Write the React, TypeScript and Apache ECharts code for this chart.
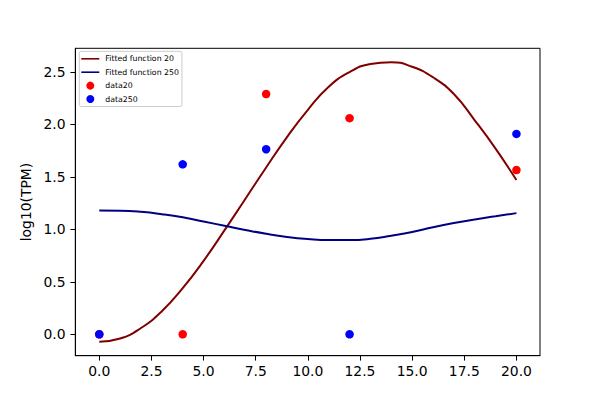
import React, { useEffect, useRef } from "react";
import * as echarts from "echarts";

const fitX = [0, 1, 2, 3, 4, 5, 6, 7, 8, 9, 10, 11, 12, 13, 14, 15, 16, 17, 18, 19, 20];
const fit20 = [-0.07, -0.04, 0.06, 0.22, 0.44, 0.7, 0.99, 1.29, 1.59, 1.88, 2.14, 2.36, 2.5, 2.577, 2.594, 2.55, 2.45, 2.29, 2.04, 1.77, 1.47];
const fit250 = [1.18, 1.178, 1.167, 1.145, 1.115, 1.075, 1.035, 0.995, 0.958, 0.928, 0.908, 0.898, 0.898, 0.91, 0.94, 0.975, 1.02, 1.06, 1.095, 1.125, 1.155];
const dataX = [0, 4, 8, 12, 20];
const data20 = [0, 0, 2.29, 2.06, 1.566];
const data250 = [0, 1.62, 1.764, 0, 1.91];
const xTicks = [0, 2.5, 5, 7.5, 10, 12.5, 15, 17.5, 20];
const yTicks = [0, 0.5, 1, 1.5, 2, 2.5];

const FONT = "DejaVu Sans";
const LINE_ICON = "path://M0,0M0,3.2L18,3.2L18,4.8L0,4.8ZM18,8";

export default function App() {
  const ref = useRef<HTMLDivElement>(null);
  useEffect(() => {
    document.body.style.margin = "0";
    const chart = echarts.init(ref.current!, null, { renderer: "svg" });
    const pair = (xs: number[], ys: number[]) => xs.map((x, i) => [x, ys[i]]);
    chart.setOption({
      animation: false,
      backgroundColor: "#fff",
      grid: {
        left: 75.3,
        right: 60,
        top: 48.3,
        bottom: 44.3,
        show: true,
        borderColor: "#000",
        borderWidth: 1,
        backgroundColor: "transparent",
      },
      legend: {
        orient: "vertical",
        left: 79.3,
        top: 51.3,
        padding: [3.5, 3, 3.5, 2],
        itemGap: 5.4,
        itemWidth: 18,
        itemHeight: 8,
        backgroundColor: "rgba(255,255,255,0.8)",
        borderColor: "#cccccc",
        borderWidth: 1,
        borderRadius: 2,
        textStyle: { fontFamily: FONT, fontSize: 7.8, color: "#000", lineHeight: 8, padding: [0, 0, 0, 1] },
        data: [
          { name: "Fitted function 20", icon: LINE_ICON, itemStyle: { color: "#800000", borderWidth: 0 } },
          { name: "Fitted function 250", icon: LINE_ICON, itemStyle: { color: "#000080", borderWidth: 0 } },
          { name: "data20", icon: "circle", itemStyle: { borderWidth: 0 } },
          { name: "data250", icon: "circle", itemStyle: { borderWidth: 0 } },
        ],
      },
      xAxis: {
        type: "value",
        min: -1.15,
        max: 21.13,
        splitLine: { show: false },
        axisLine: { show: true, onZero: false, lineStyle: { color: "#000", width: 1 } },
        axisTick: { show: true, inside: false, length: 4.9, customValues: xTicks, lineStyle: { color: "#000", width: 1 } },
        axisLabel: {
          customValues: xTicks,
          margin: 8,
          fontFamily: FONT,
          fontSize: 13.9,
          color: "#000",
          formatter: (v: number) => v.toFixed(1),
        },
      },
      yAxis: {
        type: "value",
        min: -0.204,
        max: 2.726,
        name: "log10(TPM)",
        nameLocation: "middle",
        nameGap: 39,
        nameTextStyle: { fontFamily: FONT, fontSize: 13.9, color: "#000" },
        splitLine: { show: false },
        axisLine: { show: true, onZero: false, lineStyle: { color: "#000", width: 1 } },
        axisTick: { show: true, inside: false, length: 4.9, customValues: yTicks, lineStyle: { color: "#000", width: 1 } },
        axisLabel: {
          customValues: yTicks,
          margin: 9.8,
          fontFamily: FONT,
          fontSize: 13.9,
          color: "#000",
          formatter: (v: number) => v.toFixed(1),
        },
      },
      series: [
        {
          name: "Fitted function 20",
          type: "line",
          data: pair(fitX, fit20),
          smooth: true,
          symbol: "none",
          color: "#800000",
          lineStyle: { color: "#800000", width: 2 },
        },
        {
          name: "Fitted function 250",
          type: "line",
          data: pair(fitX, fit250),
          smooth: true,
          symbol: "none",
          color: "#000080",
          lineStyle: { color: "#000080", width: 2 },
        },
        {
          name: "data20",
          type: "scatter",
          data: pair(dataX, data20),
          symbolSize: 8.5,
          itemStyle: { color: "#ff0000", opacity: 1 },
        },
        {
          name: "data250",
          type: "scatter",
          data: pair(dataX, data250),
          symbolSize: 8.5,
          itemStyle: { color: "#0000ff", opacity: 1 },
        },
      ],
    });
    return () => chart.dispose();
  }, []);
  return <div ref={ref} style={{ width: 600, height: 400 }} />;
}
